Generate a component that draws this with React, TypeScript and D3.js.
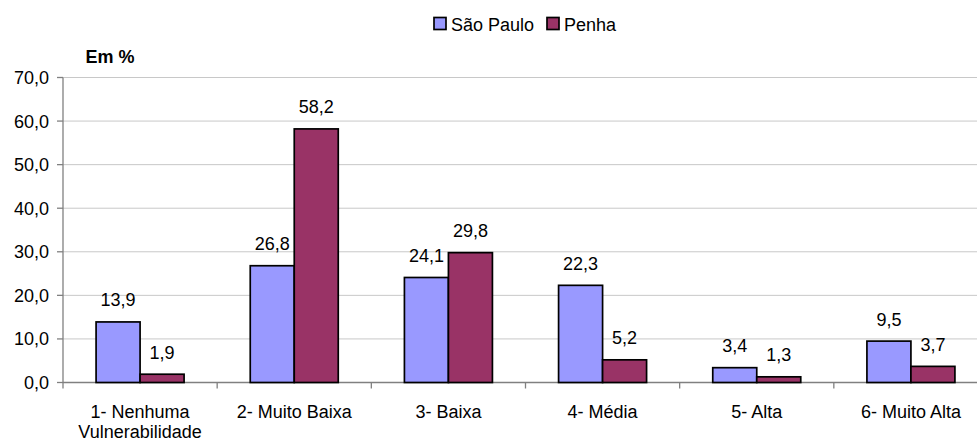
import React from "react";
import * as d3 from "d3";

const categories = [
  ["1- Nenhuma", "Vulnerabilidade"],
  ["2- Muito Baixa"],
  ["3- Baixa"],
  ["4- Média"],
  ["5- Alta"],
  ["6- Muito Alta"],
];
const seriesNames = ["São Paulo", "Penha"];
const saoPaulo = [13.9, 26.8, 24.1, 22.3, 3.4, 9.5];
const penha = [1.9, 58.2, 29.8, 5.2, 1.3, 3.7];
const yTicks = [0, 10, 20, 30, 40, 50, 60, 70];
const colors = ["#9999FF", "#993366"];

const W = 977;
const H = 441;
const left = 63;
const right = 988;
const top = 77.5;
const bottom = 382.5;
const font = "'Liberation Sans', Arial, sans-serif";
const fs = 18;

const fmt = (v: number) => v.toFixed(1).replace(".", ",");

export default function App() {
  const keys = categories.map((c) => c.join(" "));
  const x0 = d3.scaleBand<string>().domain(keys).range([left, right]).padding(0);
  const groupW = 88;
  const x1 = d3.scaleBand<string>().domain(seriesNames).range([0, groupW]).padding(0);
  const y = d3.scaleLinear().domain([0, 70]).range([bottom, top]);
  const series = [saoPaulo, penha];
  const off = (x0.bandwidth() - groupW) / 2;

  return (
    <div style={{ position: "absolute", left: 0, top: 0, width: W, height: H, overflow: "hidden" }}>
      <svg width={W} height={H} style={{ display: "block", background: "#fff" }} fontFamily={font}>
        {yTicks.filter((t) => t > 0).map((t) => (
          <line key={"g" + t} x1={left} x2={right} y1={y(t)} y2={y(t)} stroke="#c8c8c8" strokeWidth={1} />
        ))}
        <line x1={left} x2={left} y1={top} y2={bottom} stroke="#808080" strokeWidth={1.3} />
        {yTicks.map((t) => (
          <g key={"t" + t}>
            <line x1={left - 6} x2={left} y1={y(t)} y2={y(t)} stroke="#808080" strokeWidth={1.3} />
            <text x={left - 14} y={y(t)} dy="0.36em" textAnchor="end" fontSize={fs} fill="#000">
              {fmt(t)}
            </text>
          </g>
        ))}
        <line x1={left} x2={right} y1={bottom} y2={bottom} stroke="#808080" strokeWidth={1.3} />
        {keys.map((k, i) => (
          <line key={"xt" + i} x1={x0(k)!} x2={x0(k)!} y1={bottom} y2={bottom + 6} stroke="#808080" strokeWidth={1.3} />
        ))}
        {series.map((vals, si) =>
          vals.map((v, i) => {
            const bx = x0(keys[i])! + off + x1(seriesNames[si])!;
            return (
              <g key={`b${si}-${i}`}>
                <rect
                  x={bx}
                  y={y(v)}
                  width={x1.bandwidth()}
                  height={bottom - y(v)}
                  fill={colors[si]}
                  stroke="#000"
                  strokeWidth={1.7}
                />
                <text x={bx + x1.bandwidth() / 2} y={y(v) - 15.5} textAnchor="middle" fontSize={fs} fill="#000">
                  {fmt(v)}
                </text>
              </g>
            );
          })
        )}
        {categories.map((lines, i) => (
          <text key={"c" + i} x={x0(keys[i])! + x0.bandwidth() / 2} y={417.5} textAnchor="middle" fontSize={fs} fill="#000">
            {lines.map((l, j) => (
              <tspan key={j} x={x0(keys[i])! + x0.bandwidth() / 2} dy={j === 0 ? 0 : 20}>
                {l}
              </tspan>
            ))}
          </text>
        ))}
        <text x={110} y={63} textAnchor="middle" fontSize={fs} fontWeight="bold" fill="#000">
          Em %
        </text>
        <g>
          <rect x={434} y={17.5} width={12} height={12} fill={colors[0]} stroke="#000" strokeWidth={1.7} />
          <text x={451} y={30.5} fontSize={fs} fill="#000">{seriesNames[0]}</text>
          <rect x={547} y={17.5} width={12} height={12} fill={colors[1]} stroke="#000" strokeWidth={1.7} />
          <text x={564} y={30.5} fontSize={fs} fill="#000">{seriesNames[1]}</text>
        </g>
      </svg>
    </div>
  );
}
